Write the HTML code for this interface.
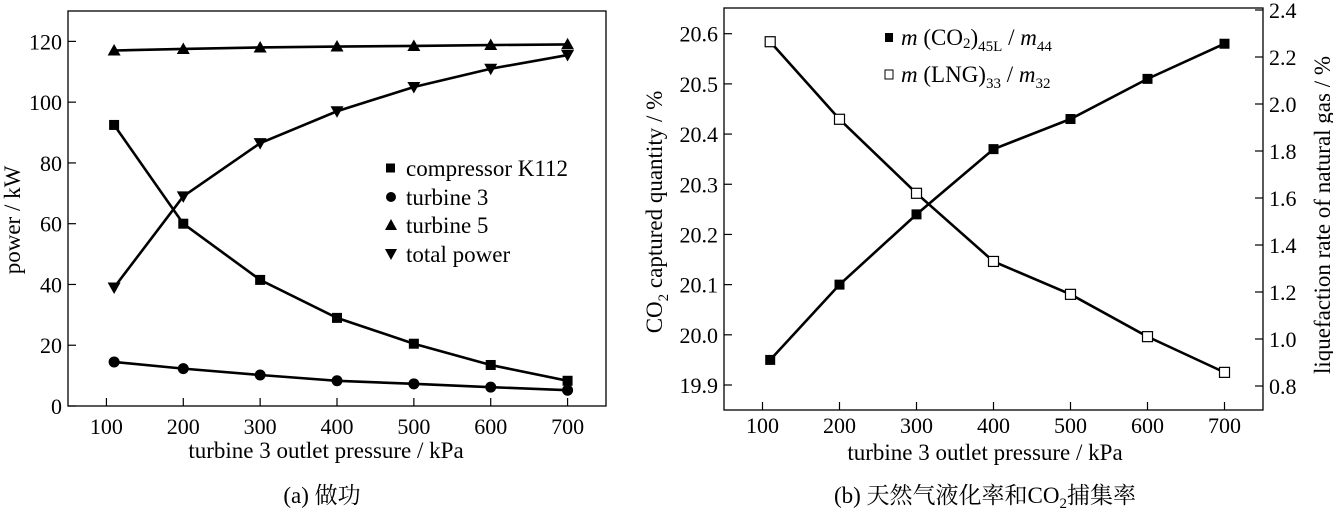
<!DOCTYPE html>
<html><head><meta charset="utf-8">
<style>
html,body{margin:0;padding:0;background:#fff;}
svg{display:block;font-family:"Liberation Serif","Noto Serif CJK SC",serif;}
</style></head>
<body>
<svg id="fig" width="1333" height="508" viewBox="0 0 1333 508" xmlns="http://www.w3.org/2000/svg">
<g id="chartA"></g>
<g id="chartB"></g>
</svg>
<script>
const xCats = [110, 200, 300, 400, 500, 600, 700];
const xTicks = [100, 200, 300, 400, 500, 600, 700];
const compressorK112 = [92.5, 60, 41.5, 29, 20.5, 13.5, 8.3];
const turbine3 = [14.5, 12.3, 10.2, 8.3, 7.3, 6.2, 5.2];
const turbine5 = [117, 117.5, 118, 118.3, 118.5, 118.8, 119];
const totalPower = [39, 69, 86.5, 97, 105, 111, 115.5];
const yTicksA = [0, 20, 40, 60, 80, 100, 120];
const co2Captured = [19.95, 20.10, 20.24, 20.37, 20.43, 20.51, 20.58];
const lngRate = [2.265, 1.935, 1.62, 1.33, 1.19, 1.01, 0.858];
const yTicksBL = [19.9, 20.0, 20.1, 20.2, 20.3, 20.4, 20.5, 20.6];
const yTicksBR = [0.8, 1.0, 1.2, 1.4, 1.6, 1.8, 2.0, 2.2, 2.4];

const NS = "http://www.w3.org/2000/svg";
const TF = 22, LF = 23;
function mk(parent, tag, attrs, text) {
  const e = document.createElementNS(NS, tag);
  for (const k in attrs) e.setAttribute(k, attrs[k]);
  if (text !== undefined) e.textContent = text;
  parent.appendChild(e);
  return e;
}
function lin(d0, d1, r0, r1) { return v => r0 + (v - d0) * (r1 - r0) / (d1 - d0); }

function marker(g, shape, x, y) {
  let e;
  if (shape === 'square') e = mk(g, 'rect', {x: x-5, y: y-5, width: 10, height: 10, fill: '#000'});
  else if (shape === 'opensquare') e = mk(g, 'rect', {x: x-5, y: y-5, width: 10, height: 10, fill: '#fff', stroke: '#000', 'stroke-width': 1.2});
  else if (shape === 'circle') e = mk(g, 'circle', {cx: x, cy: y, r: 5.5, fill: '#000'});
  else if (shape === 'tri') e = mk(g, 'polygon', {points: `${x-6.5},${y+5} ${x+6.5},${y+5} ${x},${y-6.5}`, fill: '#000'});
  else e = mk(g, 'polygon', {points: `${x-6.5},${y-5} ${x+6.5},${y-5} ${x},${y+6.5}`, fill: '#000'});
  
  
  return e;
}
function series(g, name, xs, ys, X, Y, shape) {
  const sg = mk(g, 'g', {});
  
  
  const pts = xs.map((v, i) => X(v) + ',' + Y(ys[i])).join(' ');
  mk(sg, 'polyline', {points: pts, fill: 'none', stroke: '#000', 'stroke-width': 2.6});
  xs.forEach((v, i) => marker(sg, shape, X(v), Y(ys[i])));
}

// ---------- Chart A ----------
(function(){
  const g = document.getElementById('chartA');
  const L = 68, R = 606, T = 11, B = 406;
  const X = lin(50, 750, L, R), Y = lin(0, 130, B, T);
  const f = mk(g, 'rect', {x: L, y: T, width: R-L, height: B-T, fill: 'none', stroke: '#000', 'stroke-width': 1.3});
   
  const ax = mk(g, 'g', {});  
  xTicks.forEach(v => {
    mk(ax, 'line', {x1: X(v), x2: X(v), y1: B, y2: B-8, stroke: '#000', 'stroke-width': 1.2});
    mk(ax, 'text', {x: X(v), y: B+28, 'font-size': TF, 'text-anchor': 'middle'}, v);
  });
  const ay = mk(g, 'g', {});  
  yTicksA.forEach(v => {
    mk(ay, 'line', {x1: L, x2: L+8, y1: Y(v), y2: Y(v), stroke: '#000', 'stroke-width': 1.2});
    mk(ay, 'text', {x: L-6, y: Y(v)+8, 'font-size': TF, 'text-anchor': 'end'}, v);
  });
  const yt = mk(g, 'text', {x: 0, y: 0, 'font-size': LF, 'text-anchor': 'middle', transform: 'translate(20,220) rotate(-90)'}, 'power / kW');
   
  const xt = mk(g, 'text', {x: 326, y: 458, 'font-size': LF, 'text-anchor': 'middle'}, 'turbine 3 outlet pressure / kPa');
   
  const cap = mk(g, 'text', {x: 322, y: 503, 'font-size': 23, 'text-anchor': 'middle'}, '(a) 做功');
   

  series(g, 'series-turbine-5', xCats, turbine5, X, Y, 'tri');
  series(g, 'series-total-power', xCats, totalPower, X, Y, 'dtri');
  series(g, 'series-compressor-k112', xCats, compressorK112, X, Y, 'square');
  series(g, 'series-turbine-3', xCats, turbine3, X, Y, 'circle');

  const lg = mk(g, 'g', {});  
  const items = [['square','compressor K112',168],['circle','turbine 3',197],['tri','turbine 5',225],['dtri','total power',254]];
  items.forEach(it => {
    const eg = mk(lg, 'g', {});  
    if (it[0]==='square') mk(eg,'rect',{x:386,y:it[2]-4.5,width:9,height:9,fill:'#000'});
    else if (it[0]==='circle') mk(eg,'circle',{cx:391,cy:it[2],r:5,fill:'#000'});
    else if (it[0]==='tri') mk(eg,'polygon',{points:`385,${it[2]+5} 397,${it[2]+5} 391,${it[2]-6}`,fill:'#000'});
    else mk(eg,'polygon',{points:`385,${it[2]-5} 397,${it[2]-5} 391,${it[2]+6}`,fill:'#000'});
    mk(eg,'text',{x:406,y:it[2]+8,'font-size':LF},it[1]);
  });
})();

// ---------- Chart B ----------
(function(){
  const g = document.getElementById('chartB');
  const L = 724, R = 1263, T = 8, B = 410;
  const X = lin(50, 750, L, R);
  const YL = lin(19.9, 20.6, 385, 33.7);
  const YR = lin(0.8, 2.4, 386, 10);
  const f = mk(g, 'rect', {x: L, y: T, width: R-L, height: B-T, fill: 'none', stroke: '#000', 'stroke-width': 1.3});
   
  const ax = mk(g, 'g', {});  
  xTicks.forEach(v => {
    mk(ax, 'line', {x1: X(v), x2: X(v), y1: B, y2: B-8, stroke: '#000', 'stroke-width': 1.2});
    mk(ax, 'text', {x: X(v), y: B+23, 'font-size': TF, 'text-anchor': 'middle'}, v);
  });
  const ayl = mk(g, 'g', {});  
  yTicksBL.forEach(v => {
    mk(ayl, 'line', {x1: L, x2: L+8, y1: YL(v), y2: YL(v), stroke: '#000', 'stroke-width': 1.2});
    mk(ayl, 'text', {x: L-6, y: YL(v)+8, 'font-size': TF, 'text-anchor': 'end'}, v.toFixed(1));
  });
  const ayr = mk(g, 'g', {});  
  yTicksBR.forEach(v => {
    mk(ayr, 'line', {x1: R-8, x2: R, y1: YR(v), y2: YR(v), stroke: '#000', 'stroke-width': 1.2});
    mk(ayr, 'text', {x: R+6, y: YR(v)+8, 'font-size': TF, 'text-anchor': 'start'}, v.toFixed(1));
  });
  const ylt = mk(g, 'text', {x: 0, y: 0, 'font-size': LF, 'text-anchor': 'middle', transform: 'translate(662,212) rotate(-90)'});
   
  mk(ylt, 'tspan', {}, 'CO');
  mk(ylt, 'tspan', {'font-size': 15, dy: 6}, '2');
  mk(ylt, 'tspan', {dy: -6}, ' captured quantity / %');
  const yrt = mk(g, 'text', {x: 0, y: 0, 'font-size': LF, 'text-anchor': 'middle', transform: 'translate(1330,215) rotate(-90)'}, 'liquefaction rate of natural gas / %');
   
  const xt = mk(g, 'text', {x: 985, y: 460, 'font-size': LF, 'text-anchor': 'middle'}, 'turbine 3 outlet  pressure / kPa');
   
  const cap = mk(g, 'text', {x: 985, y: 503, 'font-size': 23, 'text-anchor': 'middle'});
   
  mk(cap, 'tspan', {}, '(b) 天然气液化率和CO');
  mk(cap, 'tspan', {'font-size': 15, dy: 5}, '2');
  mk(cap, 'tspan', {dy: -5}, '捕集率');

  series(g, 'series-co2-captured', xCats, co2Captured, X, YL, 'square');
  series(g, 'series-lng-rate', xCats, lngRate, X, YR, 'opensquare');

  const lg = mk(g, 'g', {});  
  const e1 = mk(lg, 'g', {});  
  mk(e1, 'rect', {x: 885, y: 33, width: 8, height: 9, fill: '#000'});
  const t1 = mk(e1, 'text', {x: 901, y: 45, 'font-size': LF});
  mk(t1, 'tspan', {'font-style': 'italic'}, 'm');
  mk(t1, 'tspan', {}, ' (CO');
  mk(t1, 'tspan', {'font-size': 15, dy: 3}, '2');
  mk(t1, 'tspan', {dy: -3}, ')');
  mk(t1, 'tspan', {'font-size': 15, dy: 6}, '45L');
  mk(t1, 'tspan', {dy: -6}, ' / ');
  mk(t1, 'tspan', {'font-style': 'italic'}, 'm');
  mk(t1, 'tspan', {'font-size': 15, dy: 6}, '44');
  const e2 = mk(lg, 'g', {});  
  mk(e2, 'rect', {x: 885, y: 70, width: 8, height: 9, fill: '#fff', stroke: '#000', 'stroke-width': 1});
  const t2 = mk(e2, 'text', {x: 901, y: 82, 'font-size': LF});
  mk(t2, 'tspan', {'font-style': 'italic'}, 'm');
  mk(t2, 'tspan', {}, ' (LNG)');
  mk(t2, 'tspan', {'font-size': 15, dy: 6}, '33');
  mk(t2, 'tspan', {dy: -6}, ' / ');
  mk(t2, 'tspan', {'font-style': 'italic'}, 'm');
  mk(t2, 'tspan', {'font-size': 15, dy: 6}, '32');
})();
</script>
</body></html>
